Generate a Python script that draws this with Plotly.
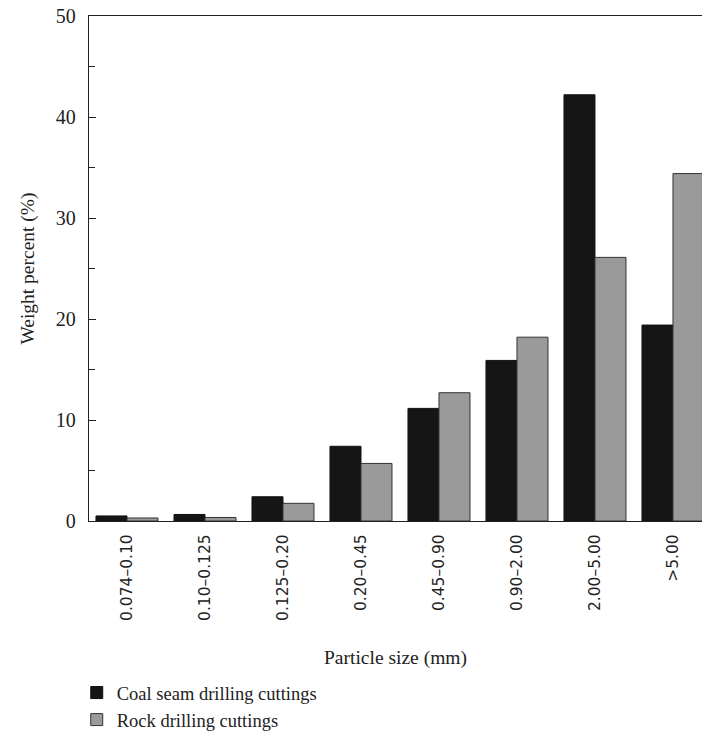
import plotly.graph_objects as go

categories = ["0.074–0.10", "0.10–0.125", "0.125–0.20", "0.20–0.45",
              "0.45–0.90", "0.90–2.00", "2.00–5.00", ">5.00"]
coal_values = [0.5, 0.65, 2.4, 7.4, 11.15, 15.9, 42.2, 19.4]
rock_values = [0.3, 0.35, 1.75, 5.7, 12.7, 18.2, 26.1, 34.4]
series_names = ["Coal seam drilling cuttings", "Rock drilling cuttings"]
y_ticks = [0, 10, 20, 30, 40, 50]

SERIF = "Liberation Serif"
SANS = "DejaVu Sans"

fig = go.Figure()
fig.add_trace(go.Bar(
    x=categories, y=coal_values, name=series_names[0],
    marker=dict(color="#151515", line=dict(color="#111111", width=1)),
))
fig.add_trace(go.Bar(
    x=categories, y=rock_values, name=series_names[1],
    marker=dict(color="#9a9a9a", line=dict(color="#333333", width=1)),
))

fig.update_layout(
    width=702, height=735,
    margin=dict(l=89, r=0, t=16, b=214, autoexpand=False),
    paper_bgcolor="white", plot_bgcolor="white",
    barmode="group", bargap=0.205, bargroupgap=0,
    font=dict(family=SERIF, size=18, color="#222222"),
    showlegend=True,
    legend=dict(
        orientation="v",
        x=-0.02, y=-0.303, xanchor="left", yanchor="top",
        font=dict(family=SERIF, size=18.5, color="#222222"),
        bgcolor="rgba(0,0,0,0)", tracegroupgap=0,
    ),
)

fig.update_xaxes(
    type="category", range=[-0.487, 7.372],
    showline=True, linecolor="#222222", linewidth=1.3, mirror=True,
    ticks="", tickangle=-90,
    tickfont=dict(family=SANS, size=15.5, color="#222222"),
    ticklabelstandoff=6,
    title=dict(text="Particle size (mm)", font=dict(family=SERIF, size=19.5), standoff=30),
    showgrid=False, zeroline=False,
)
fig.update_yaxes(
    range=[0, 50], tickvals=y_ticks,
    showline=True, linecolor="#222222", linewidth=1.3,
    ticks="inside", ticklen=7, tickcolor="#222222", tickwidth=1.2,
    minor=dict(dtick=5, ticks="inside", ticklen=6, tickcolor="#222222", tickwidth=1.2, showgrid=False),
    tickfont=dict(family=SERIF, size=20, color="#222222"),
    ticklabelstandoff=8,
    title=dict(text="Weight percent (%)", font=dict(family=SERIF, size=19.5), standoff=16),
    showgrid=False, zeroline=False,
)

fig.write_html("out.html")
